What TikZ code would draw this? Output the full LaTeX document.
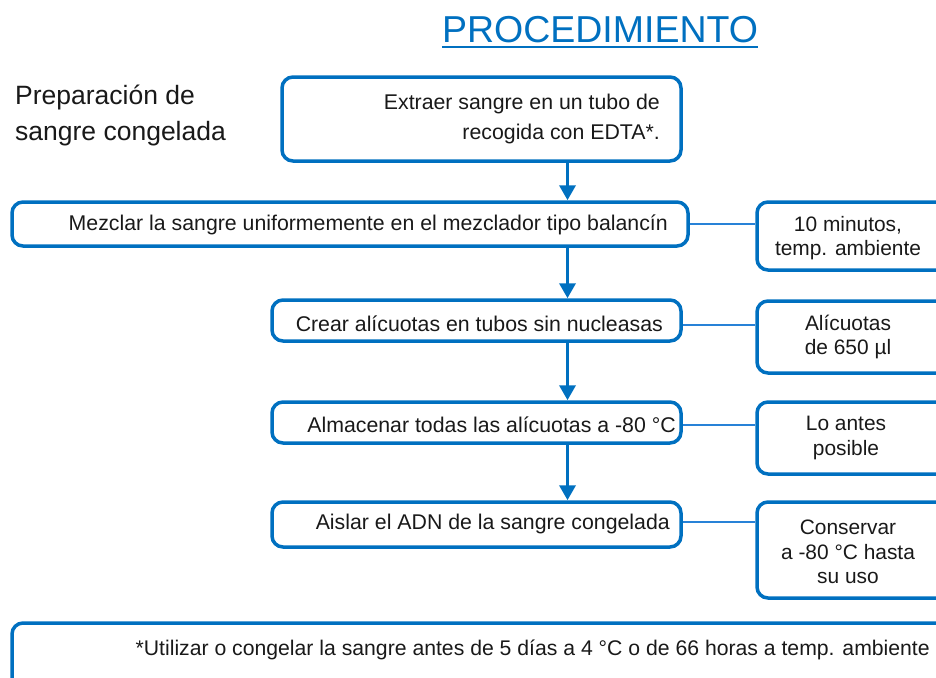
\documentclass[tikz,border=0pt]{standalone}
\usepackage{fontspec}
\setmainfont{Liberation Sans}
\usetikzlibrary{arrows.meta}
\definecolor{qblue}{RGB}{0,112,192}
\definecolor{lblue}{RGB}{40,130,215}
\begin{document}
\begin{tikzpicture}[x=1pt,y=-1pt,
  box/.style={draw=qblue,line width=3.5pt,rounded corners=11pt,inner sep=0pt},
  txt/.style={font=\fontsize{21.3}{30}\selectfont,inner sep=0pt,text=black!90},
  side/.style={font=\fontsize{20.9}{24.6}\selectfont,inner sep=0pt,align=center,text=black!90},
  flow/.style={draw=qblue,line width=3.5pt,-{Triangle[length=15pt,width=16pt]}},
  link/.style={draw=lblue,line width=1.5pt}]
\useasboundingbox (0,0) rectangle (936,677);

% title and left label
\node[font=\fontsize{37.5}{40}\selectfont,text=qblue,inner sep=0pt] (title) at (600,30) {PROCEDIMIENTO};
\draw[qblue,line width=2pt] ([yshift=-4pt]title.south west) -- ([yshift=-4pt]title.south east);
\node[font=\fontsize{26.5}{36}\selectfont,align=left,anchor=west,inner sep=0pt,text=black!90] (lbl) at (15,115) {Preparación de\\sangre congelada};

% main boxes
\node[box,minimum width=399pt,minimum height=84pt] (b1) at (481.5,119) {};
\node[box,minimum width=676pt,minimum height=44pt] (b2) at (350,224) {};
\node[box,minimum width=409pt,minimum height=41pt] (b3) at (476.5,320.5) {};
\node[box,minimum width=409pt,minimum height=41pt] (b4) at (476.5,422.5) {};
\node[box,minimum width=409pt,minimum height=45pt] (b5) at (476.5,524.5) {};

% side boxes
\node[box,minimum width=193pt,minimum height=68pt] (r1) at (853.5,236) {};
\node[box,minimum width=193pt,minimum height=72pt] (r2) at (853.5,337) {};
\node[box,minimum width=193pt,minimum height=72pt] (r3) at (853.5,438) {};
\node[box,minimum width=193pt,minimum height=96pt] (r4) at (853.5,550) {};

% footer
\node[box,minimum width=938pt,minimum height=67pt] (f) at (481,656.5) {};

% texts
\node[txt,align=right,anchor=east] (t1) at (660,119) {Extraer sangre en un tubo de\\recogida con EDTA*.};
\node[txt,anchor=east] (t2) at (668,225) {Mezclar la sangre uniformemente en el mezclador tipo balancín};
\node[txt,anchor=east] (t3) at (663,324) {Crear alícuotas en tubos sin nucleasas};
\node[txt,anchor=east] (t4) at (676,425) {Almacenar todas las alícuotas a -80 °C};
\node[txt,anchor=east] (t5) at (670,524) {Aislar el ADN de la sangre congelada};
\node[side] (s1) at (848,238) {10 minutos,\\temp. ambiente};
\node[side] (s2) at (848,337) {Alícuotas\\de 650 µl};
\node[side] (s3) at (846,438) {Lo antes\\posible};
\node[side] (s4) at (848,552) {Conservar\\a -80 °C hasta\\su uso};
\node[txt,anchor=east,font=\fontsize{21.2}{24}\selectfont] (ft) at (930,650) {*Utilizar o congelar la sangre antes de 5 días a 4 °C o de 66 horas a temp. ambiente};

% flow arrows
\draw[flow] (b1.south -| 567.5,0) -- (b2.north -| 567.5,0);
\draw[flow] (b2.south -| 567.5,0) -- (b3.north -| 567.5,0);
\draw[flow] (b3.south -| 567.5,0) -- (b4.north -| 567.5,0);
\draw[flow] (b4.south -| 567.5,0) -- (b5.north -| 567.5,0);

% side links
\draw[link] (b2.east) -- (b2.east -| r1.west);
\draw[link] (b3.east |- 0,325) -- (r2.west |- 0,325);
\draw[link] (b4.east |- 0,425) -- (r3.west |- 0,425);
\draw[link] (b5.east |- 0,522) -- (r4.west |- 0,522);
\end{tikzpicture}
\end{document}
